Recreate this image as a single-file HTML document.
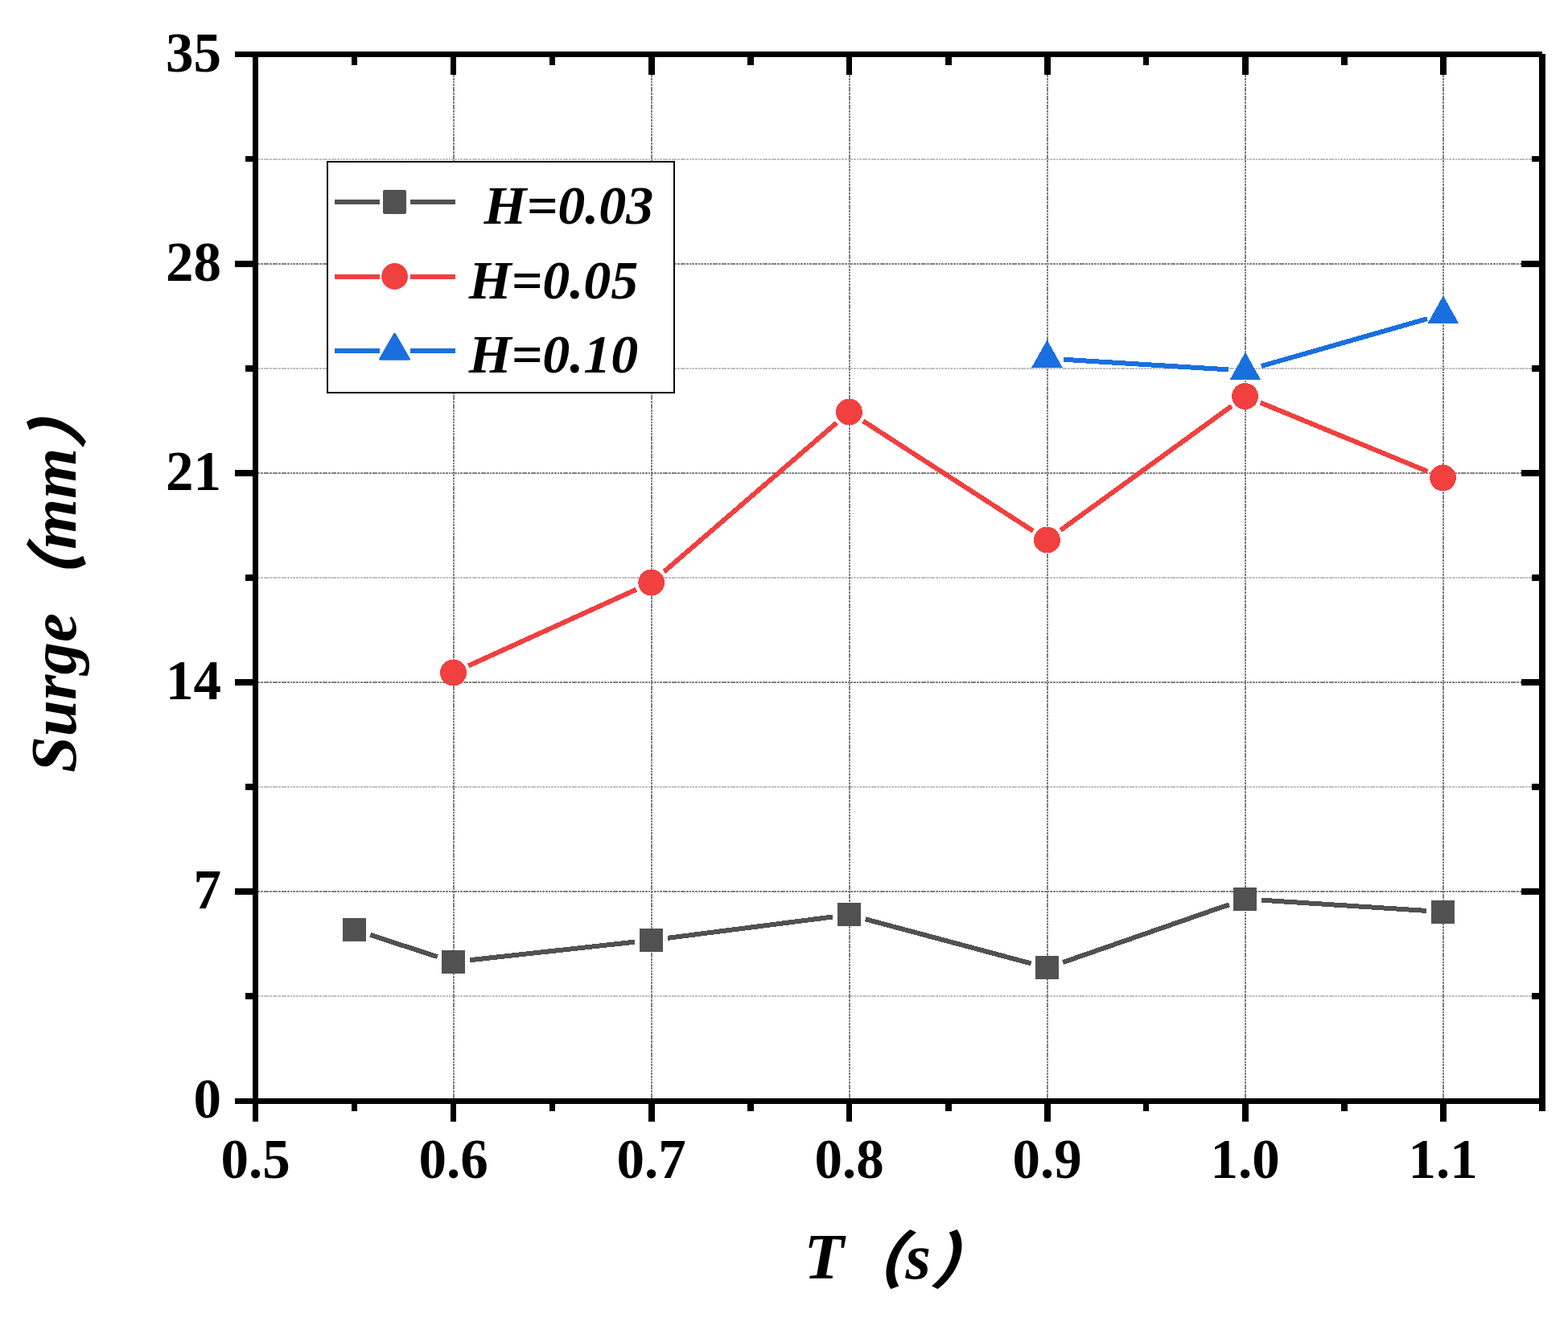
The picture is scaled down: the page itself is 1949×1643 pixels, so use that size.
<!DOCTYPE html>
<html lang="en"><head><meta charset="utf-8"><title>Surge vs T</title>
<style>
html,body{margin:0;padding:0;background:#fff;}
body{width:1949px;height:1643px;overflow:hidden;}
svg{display:block;}
text{fill:#000;}
.tick{font-family:"Liberation Serif",serif;font-weight:bold;font-size:69px;}
.leg{font-family:"Liberation Serif",serif;font-weight:bold;font-style:italic;font-size:68px;}
.ttl{font-family:"Liberation Serif",serif;font-weight:bold;font-style:italic;font-size:81px;}
.par{font-family:"Liberation Serif","Noto Sans CJK SC",sans-serif;font-weight:900;font-style:normal;font-size:76.6px;}
</style></head><body>
<svg width="1949" height="1643" viewBox="0 0 1949 1643">
<rect x="0" y="0" width="1949" height="1643" fill="#fff"/>
<g fill="none" stroke-width="2" shape-rendering="crispEdges" stroke-dashoffset="-7">
<line x1="321" y1="198" x2="1904" y2="198" stroke="#c0c0c0" stroke-dasharray="6 1 3 1 6 1 3 1 6 1 3 1 2 1 3 1 3 1 2 1 3 1 3 1 2 1 3 1"/>
<line x1="321" y1="458" x2="1904" y2="458" stroke="#c0c0c0" stroke-dasharray="6 1 3 1 6 1 3 1 6 1 3 1 2 1 3 1 3 1 2 1 3 1 3 1 2 1 3 1"/>
<line x1="321" y1="718" x2="1904" y2="718" stroke="#c0c0c0" stroke-dasharray="6 1 3 1 6 1 3 1 6 1 3 1 2 1 3 1 3 1 2 1 3 1 3 1 2 1 3 1"/>
<line x1="321" y1="978" x2="1904" y2="978" stroke="#c0c0c0" stroke-dasharray="6 1 3 1 6 1 3 1 6 1 3 1 2 1 3 1 3 1 2 1 3 1 3 1 2 1 3 1"/>
<line x1="321" y1="1238" x2="1904" y2="1238" stroke="#c0c0c0" stroke-dasharray="6 1 3 1 6 1 3 1 6 1 3 1 2 1 3 1 3 1 2 1 3 1 3 1 2 1 3 1"/>
<line x1="321" y1="328" x2="1891" y2="328" stroke="#808080" stroke-dasharray="6 1 3 1 6 1 3 1 6 1 3 1 2 1 3 1 3 1 2 1 3 1 3 1 2 1 3 1"/>
<line x1="321" y1="588" x2="1891" y2="588" stroke="#808080" stroke-dasharray="6 1 3 1 6 1 3 1 6 1 3 1 2 1 3 1 3 1 2 1 3 1 3 1 2 1 3 1"/>
<line x1="321" y1="848" x2="1891" y2="848" stroke="#808080" stroke-dasharray="6 1 3 1 6 1 3 1 6 1 3 1 2 1 3 1 3 1 2 1 3 1 3 1 2 1 3 1"/>
<line x1="321" y1="1108" x2="1891" y2="1108" stroke="#808080" stroke-dasharray="6 1 3 1 6 1 3 1 6 1 3 1 2 1 3 1 3 1 2 1 3 1 3 1 2 1 3 1"/>
<line x1="564" y1="1365" x2="564" y2="93" stroke="#808080" stroke-dasharray="6 1 3 1 6 1 3 1 6 1 3 1 2 1 3 1 3 1 2 1 3 1 3 1 2 1 3 1" stroke-dashoffset="11"/>
<line x1="810" y1="1365" x2="810" y2="93" stroke="#808080" stroke-dasharray="6 1 3 1 6 1 3 1 6 1 3 1 2 1 3 1 3 1 2 1 3 1 3 1 2 1 3 1" stroke-dashoffset="11"/>
<line x1="1056" y1="1365" x2="1056" y2="93" stroke="#808080" stroke-dasharray="6 1 3 1 6 1 3 1 6 1 3 1 2 1 3 1 3 1 2 1 3 1 3 1 2 1 3 1" stroke-dashoffset="11"/>
<line x1="1302" y1="1365" x2="1302" y2="93" stroke="#808080" stroke-dasharray="6 1 3 1 6 1 3 1 6 1 3 1 2 1 3 1 3 1 2 1 3 1 3 1 2 1 3 1" stroke-dashoffset="11"/>
<line x1="1548" y1="1365" x2="1548" y2="93" stroke="#808080" stroke-dasharray="6 1 3 1 6 1 3 1 6 1 3 1 2 1 3 1 3 1 2 1 3 1 3 1 2 1 3 1" stroke-dashoffset="11"/>
<line x1="1794" y1="1365" x2="1794" y2="93" stroke="#808080" stroke-dasharray="6 1 3 1 6 1 3 1 6 1 3 1 2 1 3 1 3 1 2 1 3 1 3 1 2 1 3 1" stroke-dashoffset="11"/>
</g>
<g fill="#000" shape-rendering="crispEdges">
<rect x="292" y="64" width="1625" height="7"/>
<rect x="292" y="1365" width="1625" height="7"/>
<rect x="314" y="64" width="7" height="1330"/>
<rect x="1913" y="67" width="8" height="1314"/>
<rect x="560" y="71" width="7" height="22"/>
<rect x="560" y="1372" width="7" height="22"/>
<rect x="806" y="71" width="8" height="22"/>
<rect x="806" y="1372" width="8" height="22"/>
<rect x="1052" y="71" width="7" height="22"/>
<rect x="1052" y="1372" width="7" height="22"/>
<rect x="1298" y="71" width="8" height="22"/>
<rect x="1298" y="1372" width="8" height="22"/>
<rect x="1544" y="71" width="8" height="22"/>
<rect x="1544" y="1372" width="8" height="22"/>
<rect x="1790" y="71" width="8" height="22"/>
<rect x="1790" y="1372" width="8" height="22"/>
<rect x="437" y="71" width="7" height="10"/>
<rect x="437" y="1372" width="7" height="9"/>
<rect x="683" y="71" width="7" height="10"/>
<rect x="683" y="1372" width="7" height="9"/>
<rect x="929" y="71" width="8" height="10"/>
<rect x="929" y="1372" width="8" height="9"/>
<rect x="1175" y="71" width="8" height="10"/>
<rect x="1175" y="1372" width="8" height="9"/>
<rect x="1421" y="71" width="7" height="10"/>
<rect x="1421" y="1372" width="7" height="9"/>
<rect x="1667" y="71" width="8" height="10"/>
<rect x="1667" y="1372" width="8" height="9"/>
<rect x="292" y="324" width="22" height="8"/>
<rect x="1891" y="324" width="22" height="8"/>
<rect x="292" y="584" width="22" height="8"/>
<rect x="1891" y="584" width="22" height="8"/>
<rect x="292" y="844" width="22" height="8"/>
<rect x="1891" y="844" width="22" height="8"/>
<rect x="292" y="1104" width="22" height="8"/>
<rect x="1891" y="1104" width="22" height="8"/>
<rect x="305" y="194" width="9" height="7"/>
<rect x="1904" y="194" width="9" height="7"/>
<rect x="305" y="454" width="9" height="8"/>
<rect x="1904" y="454" width="9" height="8"/>
<rect x="305" y="714" width="9" height="8"/>
<rect x="1904" y="714" width="9" height="8"/>
<rect x="305" y="974" width="9" height="8"/>
<rect x="1904" y="974" width="9" height="8"/>
<rect x="305" y="1234" width="9" height="8"/>
<rect x="1904" y="1234" width="9" height="8"/>
</g>
<g shape-rendering="crispEdges">
<line x1="460.2" y1="1161.9" x2="543.8" y2="1189.1" stroke="#515151" stroke-width="6.0"/>
<line x1="584.1" y1="1193.2" x2="789.0" y2="1170.7" stroke="#515151" stroke-width="6.0"/>
<line x1="830.1" y1="1165.8" x2="1035.1" y2="1139.5" stroke="#515151" stroke-width="6.0"/>
<line x1="1075.6" y1="1142.3" x2="1281.6" y2="1197.4" stroke="#515151" stroke-width="6.0"/>
<line x1="1321.2" y1="1196.0" x2="1527.9" y2="1124.2" stroke="#515151" stroke-width="6.0"/>
<line x1="1568.2" y1="1118.7" x2="1772.9" y2="1131.9" stroke="#515151" stroke-width="6.0"/>
<rect x="426" y="1141" width="29" height="29" fill="#515151"/>
<rect x="549" y="1181" width="29" height="29" fill="#515151"/>
<rect x="795" y="1154" width="29" height="29" fill="#515151"/>
<rect x="1041" y="1122" width="29" height="29" fill="#515151"/>
<rect x="1287" y="1188" width="29" height="29" fill="#515151"/>
<rect x="1533" y="1103" width="29" height="29" fill="#515151"/>
<rect x="1779" y="1119" width="29" height="29" fill="#515151"/>
<line x1="582.3" y1="827.4" x2="790.9" y2="732.6" stroke="#f04040" stroke-width="6.0"/>
<line x1="825.4" y1="710.5" x2="1039.8" y2="525.5" stroke="#f04040" stroke-width="6.0"/>
<line x1="1072.9" y1="523.2" x2="1284.1" y2="659.9" stroke="#f04040" stroke-width="6.0"/>
<line x1="1318.3" y1="658.9" x2="1530.8" y2="504.7" stroke="#f04040" stroke-width="6.0"/>
<line x1="1566.7" y1="500.4" x2="1774.4" y2="585.9" stroke="#f04040" stroke-width="6.0"/>
<circle cx="563.5" cy="836.0" r="16.4" fill="#f04040"/>
<circle cx="809.7" cy="724.0" r="16.4" fill="#f04040"/>
<circle cx="1055.5" cy="512.0" r="16.4" fill="#f04040"/>
<circle cx="1301.5" cy="671.1" r="16.4" fill="#f04040"/>
<circle cx="1547.6" cy="492.5" r="16.4" fill="#f04040"/>
<circle cx="1793.5" cy="593.8" r="16.4" fill="#f04040"/>
<line x1="1322.2" y1="446.8" x2="1527.2" y2="459.4" stroke="#1a6fdf" stroke-width="6.0"/>
<line x1="1567.8" y1="455.0" x2="1774.0" y2="396.2" stroke="#1a6fdf" stroke-width="6.0"/>
<polygon points="1301.5,422.4 1320.8,456.8 1282.2,456.8" fill="#1a6fdf"/>
<polygon points="1547.9,437.6 1567.2,472.0 1528.6,472.0" fill="#1a6fdf"/>
<polygon points="1793.9,367.4 1813.2,401.8 1774.6,401.8" fill="#1a6fdf"/>
</g>
<rect x="407" y="201" width="431" height="287" fill="#fff" stroke="#000" stroke-width="2" shape-rendering="crispEdges"/>
<g shape-rendering="crispEdges">
<line x1="416" y1="251.0" x2="472" y2="251.0" stroke="#515151" stroke-width="6"/>
<line x1="510" y1="251.0" x2="566" y2="251.0" stroke="#515151" stroke-width="6"/>
</g>
<rect x="476" y="236" width="29" height="30" rx="2" ry="2" fill="#515151"/>
<text class="leg" x="601.5" y="277.9">H=0.03</text>
<g shape-rendering="crispEdges">
<line x1="416" y1="343.5" x2="472" y2="343.5" stroke="#f04040" stroke-width="6"/>
<line x1="510" y1="343.5" x2="566" y2="343.5" stroke="#f04040" stroke-width="6"/>
</g>
<circle cx="490.6" cy="343.5" r="16.4" fill="#f04040"/>
<text class="leg" x="582.7" y="370.5">H=0.05</text>
<g shape-rendering="crispEdges">
<line x1="416" y1="436.0" x2="472" y2="436.0" stroke="#1a6fdf" stroke-width="6"/>
<line x1="510" y1="436.0" x2="566" y2="436.0" stroke="#1a6fdf" stroke-width="6"/>
</g>
<polygon points="490.5,415.3 508.4,446.3 472.6,446.3" fill="#1a6fdf" stroke="#1a6fdf" stroke-width="3" stroke-linejoin="round"/>
<text class="leg" x="582.7" y="462.6">H=0.10</text>
<text class="tick" x="275" y="89.0" text-anchor="end">35</text>
<text class="tick" x="275" y="349.0" text-anchor="end">28</text>
<text class="tick" x="275" y="609.0" text-anchor="end">21</text>
<text class="tick" x="275" y="869.0" text-anchor="end">14</text>
<text class="tick" x="275" y="1129.0" text-anchor="end">7</text>
<text class="tick" x="275" y="1389.0" text-anchor="end">0</text>
<text class="tick" x="317.7" y="1464.3" text-anchor="middle">0.5</text>
<text class="tick" x="563.7" y="1464.3" text-anchor="middle">0.6</text>
<text class="tick" x="809.7" y="1464.3" text-anchor="middle">0.7</text>
<text class="tick" x="1055.7" y="1464.3" text-anchor="middle">0.8</text>
<text class="tick" x="1301.7" y="1464.3" text-anchor="middle">0.9</text>
<text class="tick" x="1547.7" y="1464.3" text-anchor="middle">1.0</text>
<text class="tick" x="1793.7" y="1464.3" text-anchor="middle">1.1</text>
<g><text class="ttl" x="999.5" y="1589">T</text><text class="par" transform="translate(1045.4 1594.1) skewX(-18)">（</text><text class="ttl" x="1125.4" y="1589">s</text><text class="par" transform="translate(1156.0 1594.1) skewX(-18)">）</text></g>
<g transform="translate(94 960.2) rotate(-90)"><text class="ttl" x="0" y="0">Surge</text><text class="par" transform="translate(197.6 5.1) skewX(-18)">（</text><text class="ttl" x="277.5" y="0">mm</text><text class="par" transform="translate(402.3 5.1) skewX(-18)">）</text></g>
</svg></body></html>
